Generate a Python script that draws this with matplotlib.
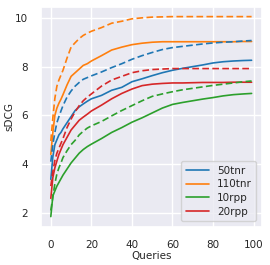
import matplotlib
matplotlib.use("Agg")
import matplotlib.pyplot as plt
import seaborn as sns

sns.set_theme(style="darkgrid")
plt.rcParams['font.family'] = ['DejaVu Sans']

queries = [0, 1, 2, 3, 4, 5, 6, 8, 10, 12, 14, 16, 18, 20, 25, 30, 35, 40, 45,
           50, 55, 60, 65, 70, 75, 80, 85, 90, 95, 99]

# solid lines
tnr50 = [3.38, 4.3, 4.8, 5.0, 5.2, 5.3, 5.45, 5.7, 5.95, 6.2, 6.35, 6.47, 6.58, 6.68,
         6.82, 7.03, 7.15, 7.38, 7.5, 7.63, 7.75, 7.85, 7.93, 8.0, 8.07, 8.15, 8.2,
         8.23, 8.25, 8.26]
tnr110 = [4.4, 5.3, 6.0, 6.3, 6.5, 6.66, 6.85, 7.25, 7.6, 7.75, 7.9, 8.05, 8.12, 8.23,
          8.45, 8.68, 8.8, 8.9, 8.96, 9.0, 9.02, 9.02, 9.02, 9.02, 9.02, 9.02, 9.02,
          9.02, 9.03, 9.03]
rpp10 = [1.85, 2.7, 2.9, 3.1, 3.25, 3.4, 3.55, 3.8, 4.05, 4.25, 4.45, 4.6, 4.72, 4.82,
         5.05, 5.3, 5.5, 5.72, 5.9, 6.1, 6.3, 6.45, 6.53, 6.6, 6.67, 6.73, 6.8, 6.85,
         6.88, 6.9]
rpp20 = [2.6, 3.45, 3.85, 4.13, 4.4, 4.6, 4.8, 5.1, 5.4, 5.6, 5.8, 5.93, 6.05, 6.18,
         6.42, 6.68, 6.9, 7.08, 7.22, 7.28, 7.31, 7.33, 7.33, 7.34, 7.35, 7.35, 7.35,
         7.36, 7.36, 7.36]

# dashed lines
tnr50_d = [4.1, 4.8, 5.3, 5.7, 5.95, 6.18, 6.4, 6.75, 7.0, 7.2, 7.35, 7.48, 7.55, 7.62,
           7.78, 7.96, 8.12, 8.3, 8.45, 8.58, 8.7, 8.78, 8.83, 8.88, 8.93, 8.97, 9.0,
           9.02, 9.05, 9.07]
tnr110_d = [4.95, 5.9, 6.7, 7.2, 7.45, 7.65, 7.85, 8.35, 8.8, 8.98, 9.15, 9.28, 9.37,
            9.45, 9.6, 9.78, 9.86, 9.96, 10.0, 10.03, 10.04, 10.05, 10.05, 10.05, 10.05,
            10.05, 10.05, 10.05, 10.05, 10.05]
rpp10_d = [2.1, 2.65, 3.2, 3.6, 3.85, 4.05, 4.27, 4.55, 4.8, 4.98, 5.2, 5.35, 5.48, 5.57,
           5.75, 5.98, 6.2, 6.4, 6.6, 6.78, 6.88, 6.97, 7.05, 7.11, 7.17, 7.23, 7.28,
           7.33, 7.38, 7.41]
rpp20_d = [3.1, 3.7, 4.15, 4.45, 4.65, 4.85, 5.05, 5.5, 5.85, 6.15, 6.4, 6.6, 6.75, 6.88,
           7.2, 7.45, 7.6, 7.75, 7.83, 7.88, 7.9, 7.92, 7.92, 7.92, 7.92, 7.92, 7.92,
           7.92, 7.92, 7.92]

labels = ["50tnr", "110tnr", "10rpp", "20rpp"]
colors = ["#1f77b4", "#ff7f0e", "#2ca02c", "#d62728"]

fig = plt.figure(figsize=(2.7, 2.65), dpi=100)
ax = fig.add_axes([0.151, 0.145, 0.818, 0.83])

for ys, lab, c in zip([tnr50, tnr110, rpp10, rpp20], labels, colors):
    ax.plot(queries, ys, color=c, lw=1.2, label=lab)
for ys, c in zip([tnr50_d, tnr110_d, rpp10_d, rpp20_d], colors):
    ax.plot(queries, ys, color=c, lw=1.2, ls="--", dashes=(4, 2))

ax.set_xticks([0, 20, 40, 60, 80, 100])
ax.set_yticks([2, 4, 6, 8, 10])
ax.tick_params(labelsize=7.5, pad=3.5)
ax.set_xlabel("Queries", fontsize=7.5, labelpad=1)
ax.set_ylabel("sDCG", fontsize=7.5)
ax.yaxis.set_label_coords(-0.118, 0.5)
ax.legend(loc="lower right", fontsize=7.5, handlelength=2.2, borderpad=0.45,
          labelspacing=0.35)

fig.savefig("out.png", dpi=100)
